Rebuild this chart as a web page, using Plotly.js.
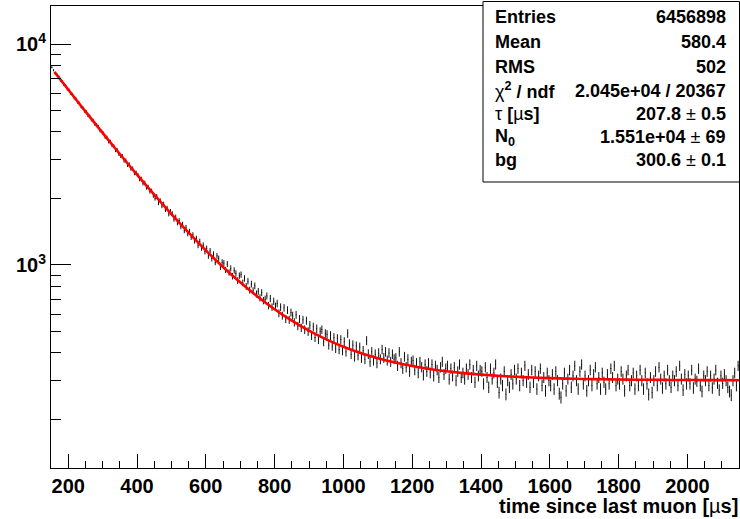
<!DOCTYPE html>
<html>
<head>
<meta charset="utf-8">
<script src="https://cdn.plot.ly/plotly-3.0.1.min.js"></script>
<style>html,body{margin:0;padding:0;background:#fff;}#chart{width:740px;height:519px;}</style>
</head>
<body>
<div id="chart"></div>
<script>
// Histogram: bin centers start at 152.5 us, 5 us apart; counts per bin
const binCounts = [
7850,7610,7330,7260,7120,6840,6790,6530,6480,6230,
6210,5960,5930,5690,5660,5440,5410,5190,5170,4960,
4950,4740,4720,4530,4520,4330,4310,4240,4050,4030,
3950,3780,3790,3610,3630,3470,3460,3300,3320,3170,
3110,3120,2960,2980,2830,2860,2720,2740,2600,2620,
2560,2440,2460,2340,2360,2240,2260,2150,2170,2060,
2000,2050,1910,1960,1850,1890,1780,1810,1700,1750,
1710,1610,1650,1550,1590,1490,1530,1430,1480,1385,
1420,1335,1370,1285,1320,1225,1280,1195,1230,1150,
1190,1100,1160,1070,1120,1030,1100,1070,980,1030,
1020,950,1010,925,965,890,945,915,850,895,
905,830,870,800,845,770,820,765,805,740,
760,710,750,690,700,725,655,705,645,685,
650,670,605,645,590,640,570,625,565,610,
590,550,595,530,570,520,565,510,560,500,
535,480,525,470,515,460,500,510,450,490,
485,435,480,430,470,420,465,415,460,410,
450,405,490,440,395,435,385,430,390,425,
380,410,375,455,395,365,405,370,395,360,
400,375,415,380,405,370,400,365,395,375,
380,350,405,360,340,385,345,375,330,365,
370,335,360,325,365,345,318,355,330,360,
325,355,315,350,335,310,345,365,320,340,
350,305,340,315,345,300,330,355,310,325,
305,340,320,355,310,335,295,350,315,335,
330,290,345,310,280,340,305,325,355,295,
265,305,285,330,260,300,280,320,290,335,
305,340,285,325,300,350,295,320,280,335,
295,330,275,315,340,285,310,270,325,300,
285,320,275,330,300,262,252,290,325,270,
305,335,280,315,350,300,275,330,355,290,
315,270,300,335,285,320,345,290,310,275,
325,295,275,320,290,340,310,350,285,305,
290,330,305,270,315,335,285,300,325,275,
315,285,335,300,275,325,290,260,310,265,
300,330,285,345,305,278,315,290,335,300,
280,315,300,330,285,350,305,272,320,290,
315,290,335,278,305,298,340,285,268,315,
300,330,285,315,278,305,335,292,272,315,
292,320,300,280,268,258,300,325,285,350
];
// Poisson errors on the counts
const binErrors = binCounts.map(v => Math.sqrt(v));

// Fit curve (red) values
const fitTime = [160,200,250,300,350,400,450,500,550,600,650,700,750,800,850,900,950,1000,1050,1100,1150,1200,1250,1300,1350,1400,1450,1500,1550,1600,1650,1700,1750,1800,1850,1900,1950,2000,2050,2100,2150];
const fitCounts = [7482,6225,4958,3962,3179,2563,2080,1699,1400,1165,980,834.7,720.5,630.7,560.1,504.6,461.0,426.7,399.7,378.5,361.9,348.8,338.5,330.4,324.0,319.0,315.1,312.0,309.5,307.6,306.1,304.9,304.0,303.3,302.7,302.3,301.9,301.6,301.4,301.2,301.1];

// Axis ticks
const xTickVals = [200,400,600,800,1000,1200,1400,1600,1800,2000];
const xTickText = ['200','400','600','800','1000','1200','1400','1600','1800','2000'];
const yTickVals = [1000,10000];
const yTickText = ['10<sup>3</sup>','10<sup>4</sup>'];
const yMinorVals = [200,300,400,500,600,700,800,900,2000,3000,4000,5000,6000,7000,8000,9000];

// Stats box
const statLabels = ['<b>Entries</b>','<b>Mean</b>','<b>RMS</b>','χ<b><sup>2</sup> / ndf</b>','τ <b>[</b>µ<b>s]</b>','<b>N<sub>0</sub></b>','<b>bg</b>'];
const statValues = ['<b>6456898</b>','<b>580.4</b>','<b>502</b>','<b>2.045e+04 / 20367</b>','<b>207.8 </b>±<b> 0.5</b>','<b>1.551e+04 </b>±<b> 69</b>','<b>300.6 </b>±<b> 0.1</b>'];

const W = 740, H = 519, ML = 51, MR = 1, MT = 6, MB = 51;
const PW = W - ML - MR, PH = H - MT - MB;
const px = x => (x - ML) / PW;
const py = y => (H - MB - y) / PH;

const FONT = '"Liberation Sans", Arial, Helvetica, sans-serif';

const rowY = [17.5, 42.5, 66.5, 90.5, 114, 137, 160];
const annotations = [];
statLabels.forEach((t, i) => {
  annotations.push({xref:'paper', yref:'paper', x:px(493), y:py(rowY[i]), xanchor:'left', yanchor:'middle',
    text:t, showarrow:false, font:{family:FONT, size:18, color:'#000'}});
  annotations.push({xref:'paper', yref:'paper', x:px(728), y:py(rowY[i]), xanchor:'right', yanchor:'middle',
    text:statValues[i], showarrow:false, font:{family:FONT, size:18, color:'#000'}});
});
annotations.push({xref:'paper', yref:'paper', x:px(740), y:py(506), xanchor:'right', yanchor:'middle',
  text:'<b>time since last muon [</b>µ<b>s]</b>', showarrow:false, font:{family:FONT, size:20, color:'#000'}});

const traces = [
  {
    type:'scatter', mode:'markers', x0:152.5, dx:5, y:binCounts,
    marker:{size:1, color:'#000'},
    error_y:{type:'data', array:binErrors, visible:true, color:'#111', thickness:1, width:0},
    hoverinfo:'skip', showlegend:false
  },
  {
    type:'scatter', mode:'lines', x:fitTime, y:fitCounts,
    line:{color:'#ff0000', width:2.6, shape:'spline'},
    hoverinfo:'skip', showlegend:false
  }
];

const layout = {
  width:W, height:H,
  margin:{l:ML, r:MR, t:MT, b:MB, pad:0},
  paper_bgcolor:'#fff', plot_bgcolor:'#fff',
  font:{family:FONT, size:20, color:'#000'},
  showlegend:false,
  xaxis:{
    range:[150,2150], showgrid:false, zeroline:false,
    showline:true, linecolor:'#000', linewidth:1, mirror:true,
    ticks:'inside', ticklen:14, tickcolor:'#000', tickwidth:1,
    tickmode:'array', tickvals:xTickVals, ticktext:xTickText.map(s => '<b>' + s + '</b>'),
    tickfont:{family:FONT, size:20, color:'#000'},
    minor:{dtick:50, tick0:0, ticks:'inside', ticklen:7, tickcolor:'#000', tickwidth:1, showgrid:false}
  },
  yaxis:{
    type:'log', range:[Math.log10(120.6), Math.log10(14860)], showgrid:false, zeroline:false,
    showline:true, linecolor:'#000', linewidth:1, mirror:true,
    ticks:'inside', ticklen:20, tickcolor:'#000', tickwidth:1,
    tickmode:'array', tickvals:yTickVals, ticktext:yTickText.map(s => '<b>' + s + '</b>'),
    tickfont:{family:FONT, size:20, color:'#000'},
    minor:{tickmode:'array', tickvals:yMinorVals, ticks:'inside', ticklen:10, tickcolor:'#000', tickwidth:1, showgrid:false}
  },
  shapes:[
    {type:'rect', xref:'paper', yref:'paper', x0:px(483), x1:px(739.5), y0:py(182), y1:py(1.5),
     fillcolor:'#fff', line:{color:'#000', width:1}, layer:'above'}
  ],
  annotations:annotations
};

Plotly.newPlot('chart', traces, layout, {displayModeBar:false, staticPlot:true});
</script>
</body>
</html>
